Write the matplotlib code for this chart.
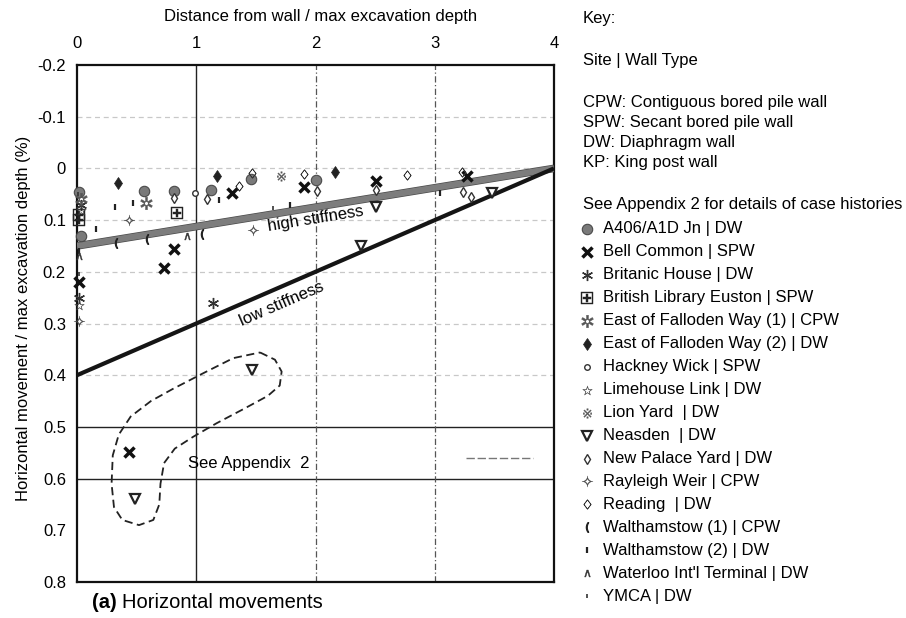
import matplotlib
matplotlib.use('Agg')
import matplotlib.pyplot as plt
import matplotlib.patheffects as pe

plt.rcParams['font.family'] = ['Liberation Sans', 'DejaVu Sans']
plt.rcParams['mathtext.fontset'] = 'dejavusans'

# ---------------- data ----------------
x_ticks = [0, 1, 2, 3, 4]
x_tick_labels = ['0', '1', '2', '3', '4']
y_ticks = [-0.2, -0.1, 0, 0.1, 0.2, 0.3, 0.4, 0.5, 0.6, 0.7, 0.8]
y_tick_labels = ['-0.2', '-0.1', '0', '0.1', '0.2', '0.3', '0.4', '0.5', '0.6', '0.7', '0.8']

high_x = [0, 4]
high_y = [0.15, 0.0]
low_x = [0, 4]
low_y = [0.40, 0.0]

a406_x = [0.02, 0.03, 0.56, 0.81, 1.12, 1.46, 2.00]
a406_y = [0.045, 0.13, 0.043, 0.043, 0.042, 0.021, 0.022]
bell_x = [0.02, 0.44, 0.73, 0.81, 1.30, 1.90, 2.51, 3.27]
bell_y = [0.22, 0.548, 0.192, 0.156, 0.048, 0.036, 0.024, 0.015]
britanic_x = [0.02, 0.03, 1.14]
britanic_y = [0.25, 0.07, 0.261]
bl_x = [0.02, 0.02, 0.84]
bl_y = [0.09, 0.10, 0.086]
efw1_x = [0.03, 0.58]
efw1_y = [0.06, 0.067]
efw2_x = [0.34, 1.17, 2.16]
efw2_y = [0.028, 0.015, 0.006]
hackney_x = [0.99]
hackney_y = [0.048]
lime_x = [0.02, 0.03]
lime_y = [0.265, 0.08]
lion_x = [1.71]
lion_y = [0.015]
neasden_x = [0.49, 1.47, 2.38, 2.51, 3.48]
neasden_y = [0.64, 0.389, 0.15, 0.074, 0.048]
npy_x = [0.81, 1.09, 2.01, 2.51, 3.24, 3.30]
npy_y = [0.057, 0.06, 0.043, 0.042, 0.045, 0.056]
rayleigh_x = [0.02, 0.44, 1.48]
rayleigh_y = [0.295, 0.10, 0.119]
reading_x = [1.36, 1.47, 1.90, 2.77, 3.23]
reading_y = [0.034, 0.008, 0.010, 0.013, 0.006]
walth1_x = [0.33, 0.59, 1.05]
walth1_y = [0.145, 0.137, 0.126]
walth2_x = [0.02, 0.16, 0.32, 0.47, 1.19, 1.79, 3.04]
walth2_y = [0.16, 0.118, 0.074, 0.067, 0.061, 0.071, 0.048]
waterloo_x = [0.02, 0.92]
waterloo_y = [0.17, 0.131]
ymca_x = [0.01, 0.02, 1.64]
ymca_y = [0.05, 0.205, 0.077]

# dashed outline around outlying points
blob_x = [1.535, 1.66, 1.716, 1.70, 1.60, 1.40, 1.17, 0.975, 0.82, 0.73, 0.70, 0.69,
          0.64, 0.52, 0.38, 0.31, 0.29, 0.30, 0.35, 0.45, 0.62, 0.80, 1.06, 1.31, 1.535]
blob_y = [0.356, 0.37, 0.393, 0.42, 0.44, 0.465, 0.493, 0.519, 0.542, 0.57, 0.61, 0.65,
          0.68, 0.69, 0.68, 0.655, 0.61, 0.555, 0.515, 0.48, 0.45, 0.427, 0.396, 0.367, 0.356]
key_line_x = [3.26, 3.82]
key_line_y = [0.56, 0.56]

site_names = ['A406/A1D Jn | DW', 'Bell Common | SPW', 'Britanic House | DW',
              'British Library Euston | SPW', 'East of Falloden Way (1) | CPW',
              'East of Falloden Way (2) | DW', 'Hackney Wick | SPW', 'Limehouse Link | DW',
              'Lion Yard  | DW', 'Neasden  | DW', 'New Palace Yard | DW', 'Rayleigh Weir | CPW',
              'Reading  | DW', 'Walthamstow (1) | CPW', 'Walthamstow (2) | DW',
              "Waterloo Int'l Terminal | DW", 'YMCA | DW']
site_x = [a406_x, bell_x, britanic_x, bl_x, efw1_x, efw2_x, hackney_x, lime_x, lion_x,
          neasden_x, npy_x, rayleigh_x, reading_x, walth1_x, walth2_x, waterloo_x, ymca_x]
site_y = [a406_y, bell_y, britanic_y, bl_y, efw1_y, efw2_y, hackney_y, lime_y, lion_y,
          neasden_y, npy_y, rayleigh_y, reading_y, walth1_y, walth2_y, waterloo_y, ymca_y]

styles = [
    dict(marker='o', ms=7.5, mfc='#7a7a7a', mec='#4a4a4a', mew=0.8),
    dict(marker='x', ms=7.5, mec='#111111', mew=2.5),
    dict(marker=(6, 2, 0), ms=8, mec='#333333', mew=1.0),
    dict(marker='$\u229e$', ms=9, mfc='#222222', mec='#222222', mew=0.3),
    dict(marker='$\u2732$', ms=9, mfc='#555555', mec='#555555', mew=0.3),
    dict(marker='d', ms=6, mfc='#222222', mec='#222222', mew=0.5),
    dict(marker='o', ms=4, mfc='white', mec='#333333', mew=1.0),
    dict(marker='$\u2606$', ms=7, mfc='#444444', mec='#444444', mew=0.2),
    dict(marker='$\u203b$', ms=7, mfc='#555555', mec='#555555', mew=0.2),
    dict(marker='v', ms=7, mfc='white', mec='#222222', mew=1.6),
    dict(marker='d', ms=5.5, mfc='white', mec='#333333', mew=1.0),
    dict(marker='$\u2727$', ms=8, mfc='#444444', mec='#444444', mew=0.2),
    dict(marker='$\u2662$', ms=7, mfc='#333333', mec='#333333', mew=0.4),
    dict(marker='$($', ms=7, mfc='#222222', mec='#222222', mew=0.8),
    dict(marker='|', ms=4.5, mec='#222222', mew=1.6),
    dict(marker='$\\wedge$', ms=5, mfc='#333333', mec='#333333', mew=0.3),
    dict(marker='|', ms=3, mec='#333333', mew=1.2),
]

# ---------------- figure ----------------
W, H = 906, 618
fig = plt.figure(figsize=(W / 100, H / 100), dpi=100)
fig.patch.set_facecolor('white')

L, R, T, B = 77, 554, 65, 582
ax = fig.add_axes([L / W, 1 - B / H, (R - L) / W, (B - T) / H])
ax.set_xlim(0, 4)
ax.set_ylim(0.8, -0.2)
ax.xaxis.tick_top()
ax.xaxis.set_label_position('top')
ax.set_xticks(x_ticks, x_tick_labels)
ax.set_yticks(y_ticks, y_tick_labels)
ax.tick_params(axis='x', length=0, pad=10, labelsize=12)
ax.tick_params(axis='y', length=0, pad=8, labelsize=12)
for s in ax.spines.values():
    s.set_linewidth(1.6)
    s.set_color('#111111')

# grid lines
for yv in [-0.1, 0, 0.1, 0.2, 0.3, 0.4]:
    ax.axhline(yv, color='#c8c8c8', lw=0.9, ls=(0, (4, 3)), zorder=0)
for yv in [0.5, 0.6]:
    ax.axhline(yv, color='#222222', lw=1.0, zorder=1)
ax.axvline(1, color='#222222', lw=1.0, zorder=1)
for xv in [2, 3]:
    ax.axvline(xv, color='#555555', lw=0.9, ls=(0, (5, 2, 1, 2)), zorder=1)

# stiffness lines
ax.plot(high_x, high_y, color='#7d7d7d', lw=4.5, solid_capstyle='butt', zorder=3,
        path_effects=[pe.Stroke(linewidth=5.5, foreground='#4a4a4a'), pe.Normal()])
ax.plot(low_x, low_y, color='#151515', lw=3.0, solid_capstyle='butt', zorder=3)

ax.text(2.0, 0.098, 'high stiffness', fontsize=12, rotation=9.2,
        ha='center', va='center', zorder=4)
ax.text(1.72, 0.262, 'low stiffness', fontsize=12, rotation=23.4,
        ha='center', va='center', zorder=4)

# outline + annotation
ax.plot(blob_x, blob_y, color='#222222', lw=1.3, ls=(0, (4.5, 2.5)), zorder=2)
ax.text(0.93, 0.570, 'See Appendix  2', fontsize=12, ha='left', va='center')
ax.plot(key_line_x, key_line_y, color='#777777', lw=1.0, ls=(0, (6, 2)))

# data markers
for xs, ys, st in zip(site_x, site_y, styles):
    ax.plot(xs, ys, ls='none', clip_on=False, zorder=5, **st)

# axis titles
fig.text(321 / W, 1 - 17 / H, 'Distance from wall / max excavation depth',
         fontsize=12, ha='center', va='center')
fig.text(24 / W, 1 - 318 / H, 'Horizontal movement / max excavation depth (%)',
         fontsize=12, ha='center', va='center', rotation=90)
fig.text(92 / W, 1 - 603 / H, '(a)', fontsize=14.5, fontweight='bold',
         ha='left', va='center')
fig.text(122 / W, 1 - 603 / H, 'Horizontal movements', fontsize=14.5,
         ha='left', va='center')

# ---------------- key panel ----------------
lax = fig.add_axes([0, 0, 1, 1])
lax.set_xlim(0, W)
lax.set_ylim(H, 0)
lax.axis('off')

key_lines = [('Key:', 18), ('Site | Wall Type', 60),
             ('CPW: Contiguous bored pile wall', 102),
             ('SPW: Secant bored pile wall', 122),
             ('DW: Diaphragm wall', 142),
             ('KP: King post wall', 162),
             ('See Appendix 2 for details of case histories', 204)]
for txt, yy in key_lines:
    lax.text(583, yy, txt, fontsize=12, ha='left', va='center')

y0, dy = 229, 22.95
for i, (name, st) in enumerate(zip(site_names, styles)):
    yy = y0 + i * dy
    lax.plot([587], [yy], ls='none', **st)
    lax.text(603, yy, name, fontsize=12, ha='left', va='center')

fig.savefig('out.png', dpi=100, facecolor='white')
